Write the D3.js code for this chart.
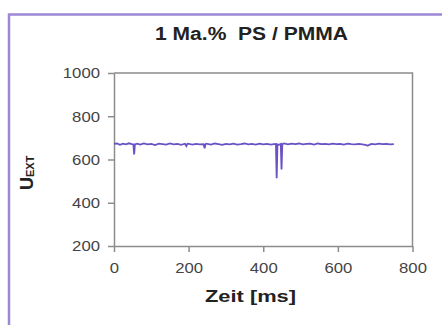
<!DOCTYPE html>
<html>
<head>
<meta charset="utf-8">
<script src="https://cdn.jsdelivr.net/npm/d3@7"></script>
<style>
  body { margin: 0; background: #fff; }
  svg { display: block; }
  .axis text { font-family: "Liberation Sans", Arial, sans-serif; fill: #444; }
  .axis path, .axis line { stroke: #8c8c8c; stroke-width: 1.5; }
</style>
</head>
<body>
<div id="chart"></div>
<script>
// chart size
const width = 442;
const height = 325;
const margin = { top: 73, right: 30, bottom: 79, left: 114 };

// data
const title = "1 Ma.%  PS / PMMA";
const xTicks = [0, 200, 400, 600, 800];
const yTicks = [200, 400, 600, 800, 1000];
const timeMs = [0, 8, 16, 24, 32, 40, 48, 52, 54, 56, 62, 70, 80, 90, 100, 110, 120, 130, 140,
  150, 160, 170, 180, 190, 194, 196, 198, 210, 220, 230, 240, 243, 245, 247, 260, 270, 280,
  290, 300, 310, 320, 330, 340, 350, 360, 370, 380, 390, 400, 410, 420, 428, 434, 436, 438,
  442, 447, 449, 451, 456, 466, 476, 486, 496, 506, 516, 526, 536, 546, 556, 566, 576, 586,
  596, 606, 616, 626, 636, 646, 656, 666, 676, 680, 684, 690, 700, 710, 720, 730, 740, 750];
const uExt = [672, 674, 668, 673, 670, 675, 671, 670, 623, 670, 673, 669, 674, 670, 672, 667,
  673, 671, 669, 674, 670, 672, 668, 673, 662, 671, 673, 669, 672, 670, 671, 652, 670, 673,
  669, 674, 671, 668, 672, 670, 673, 669, 671, 674, 670, 672, 669, 673, 670, 672, 669, 671,
  672, 513, 670, 668, 672, 554, 671, 674, 670, 673, 671, 674, 670, 672, 673, 669, 674, 671,
  672, 670, 673, 671, 672, 669, 673, 671, 670, 672, 670, 667, 664, 668, 672, 670, 673, 671,
  672, 670, 671];

const points = timeMs.map((t, i) => ({ t: t, u: uExt[i] }));

const svg = d3.select("#chart").append("svg")
    .attr("width", width)
    .attr("height", height);

// purple frame, cut off at the right and bottom
svg.append("rect")
    .attr("x", 9)
    .attr("y", 14.5)
    .attr("width", 460)
    .attr("height", 340)
    .attr("fill", "none")
    .attr("stroke", "#9c88d6")
    .attr("stroke-width", 2.5);

const x = d3.scaleLinear()
    .domain([0, 800])
    .range([margin.left, width - margin.right + 0.5]);

const y = d3.scaleLinear()
    .domain([200, 1000])
    .range([height - margin.bottom, margin.top]);

// plot box (top and right edges)
svg.append("path")
    .attr("d", `M${x(0)},${y(1000)}H${x(800)}V${y(200)}`)
    .attr("fill", "none")
    .attr("stroke", "#8c8c8c")
    .attr("stroke-width", 1.5);

// axes
const xAxis = svg.append("g")
    .attr("class", "axis")
    .attr("transform", `translate(0,${y(200)})`)
    .call(d3.axisBottom(x).tickValues(xTicks).tickFormat(d3.format("d"))
        .tickSize(6).tickSizeOuter(0).tickPadding(10));

const yAxis = svg.append("g")
    .attr("class", "axis")
    .attr("transform", `translate(${x(0)},0)`)
    .call(d3.axisLeft(y).tickValues(yTicks).tickFormat(d3.format("d"))
        .tickSize(6).tickSizeOuter(0).tickPadding(8));

// stretched digits, like the scanned original
svg.selectAll(".axis text")
    .attr("font-size", 15)
    .attr("lengthAdjust", "spacingAndGlyphs")
    .attr("textLength", d => String(d).length * 9.3);

// data line
const line = d3.line()
    .x(d => x(d.t))
    .y(d => y(d.u));

svg.append("path")
    .datum(points)
    .attr("fill", "none")
    .attr("stroke", "#6a52c4")
    .attr("stroke-width", 1.8)
    .attr("d", line);

// title
svg.append("text")
    .attr("x", 251.5)
    .attr("y", 40)
    .attr("text-anchor", "middle")
    .attr("font-family", "Liberation Sans, Arial, sans-serif")
    .attr("font-weight", "bold")
    .attr("font-size", 18)
    .attr("fill", "#222")
    .style("white-space", "pre")
    .attr("textLength", 193)
    .attr("lengthAdjust", "spacingAndGlyphs")
    .text(title);

// x label
svg.append("text")
    .attr("x", 250.5)
    .attr("y", 302)
    .attr("text-anchor", "middle")
    .attr("font-family", "Liberation Sans, Arial, sans-serif")
    .attr("font-weight", "bold")
    .attr("font-size", 17)
    .attr("fill", "#222")
    .attr("textLength", 91)
    .attr("lengthAdjust", "spacingAndGlyphs")
    .text("Zeit [ms]");

// y label U_EXT, rotated
const yLabel = svg.append("text")
    .attr("transform", "translate(33,190) rotate(-90)")
    .attr("font-family", "Liberation Sans, Arial, sans-serif")
    .attr("font-weight", "bold")
    .attr("fill", "#222");

yLabel.append("tspan")
    .attr("font-size", 18)
    .text("U");

yLabel.append("tspan")
    .attr("font-size", 11)
    .attr("dy", 1)
    .text("EXT");
</script>
</body>
</html>
